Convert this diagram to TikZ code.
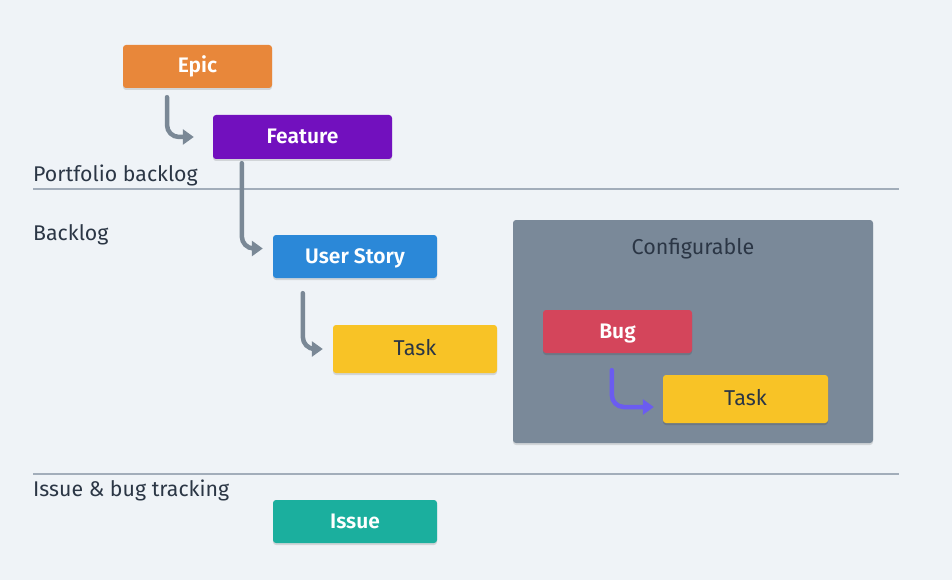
\documentclass[tikz,border=0pt]{standalone}
\usepackage{fontspec}
\setmainfont{Fira Sans}[BoldFont={Fira Sans SemiBold}]
\usetikzlibrary{arrows.meta, positioning, shadows}
\definecolor{boardBg}{HTML}{EFF3F7}
\definecolor{epicOrange}{HTML}{E8873A}
\definecolor{featurePurple}{HTML}{7210BE}
\definecolor{storyBlue}{HTML}{2B88D8}
\definecolor{taskYellow}{HTML}{F8C326}
\definecolor{bugRed}{HTML}{D4455B}
\definecolor{issueTeal}{HTML}{1BAF9E}
\definecolor{panelSlate}{HTML}{7A8999}
\definecolor{flowGray}{HTML}{7A8896}
\definecolor{flowViolet}{HTML}{6B5CF0}
\definecolor{laneLine}{HTML}{A2ADBA}
\definecolor{inkDark}{HTML}{2B3645}

\begin{document}
\begin{tikzpicture}[
    x=1pt, y=-1pt,
    item/.style={rounded corners=3pt, minimum height=43pt, inner sep=0pt, text height=15pt, text depth=2pt, text=white, font=\fontsize{21}{25}\selectfont\bfseries, drop shadow={shadow xshift=0pt, shadow yshift=-2pt, opacity=0.12, fill=black}},
    workitem/.style={item, minimum height=48pt, fill=taskYellow, text=inkDark, font=\fontsize{21.5}{25}\selectfont},
    lanelabel/.style={anchor=west, inner sep=0pt, text=inkDark, font=\fontsize{21.3}{25}\selectfont},
    lane/.style={draw=laneLine, line width=2pt},
    flow/.style={-{Triangle[length=11pt, width=15pt]}, line width=4.5pt, line cap=round, draw=flowGray, rounded corners=12pt},
    bugflow/.style={flow, draw=flowViolet}
]
    \useasboundingbox (0,0) rectangle (952,580);
    \fill[boardBg] (0,0) rectangle (952,580);

    \draw[lane] (33,189) -- (899,189);
    \draw[lane] (33,474) -- (899,474);
    \node[lanelabel] (portfolio) at (33,175) {Portfolio backlog};
    \node[lanelabel] (backlog) at (33,235) {Backlog};
    \node[lanelabel] (tracking) at (33,490) {Issue \& bug tracking};

    \node[item, fill=panelSlate, rounded corners=3pt, minimum width=360pt, minimum height=223pt] (config) at (693,331.5) {};
    \node[text=inkDark, font=\fontsize{21.5}{25}\selectfont] (configtitle) at (693,249) {Configurable};

    \node[item, fill=epicOrange, minimum width=149pt] (epic) at (197.5,66.5) {Epic};
    \node[item, fill=featurePurple, minimum width=179pt, minimum height=44pt] (feature) at (302.5,137) {Feature};
    \node[item, fill=storyBlue, minimum width=164pt] (story) at (355,256.5) {User Story};
    \node[workitem, minimum width=164pt] (task) at (415,349) {Task};
    \node[item, fill=bugRed, minimum width=149pt] (bug) at (617.5,331.5) {Bug};
    \node[workitem, minimum width=165pt] (bugtask) at (745.5,399) {Task};
    \node[item, fill=issueTeal, minimum width=164pt] (issue) at (355,521.5) {Issue};

    \draw[flow] ([xshift=-30.5pt, yshift=-9pt]epic.south) |- ([xshift=-19pt]feature.west);
    \draw[flow] ([xshift=29pt, yshift=-4pt]feature.south west) |- ([xshift=-10pt, yshift=8pt]story.west);
    \draw[flow] ([xshift=30pt, yshift=-15pt]story.south west) |- ([xshift=-10pt]task.west);
    \draw[bugflow] ([xshift=69pt, yshift=-17pt]bug.south west) |- ([xshift=-9pt, yshift=-8pt]bugtask.west);
\end{tikzpicture}
\end{document}
